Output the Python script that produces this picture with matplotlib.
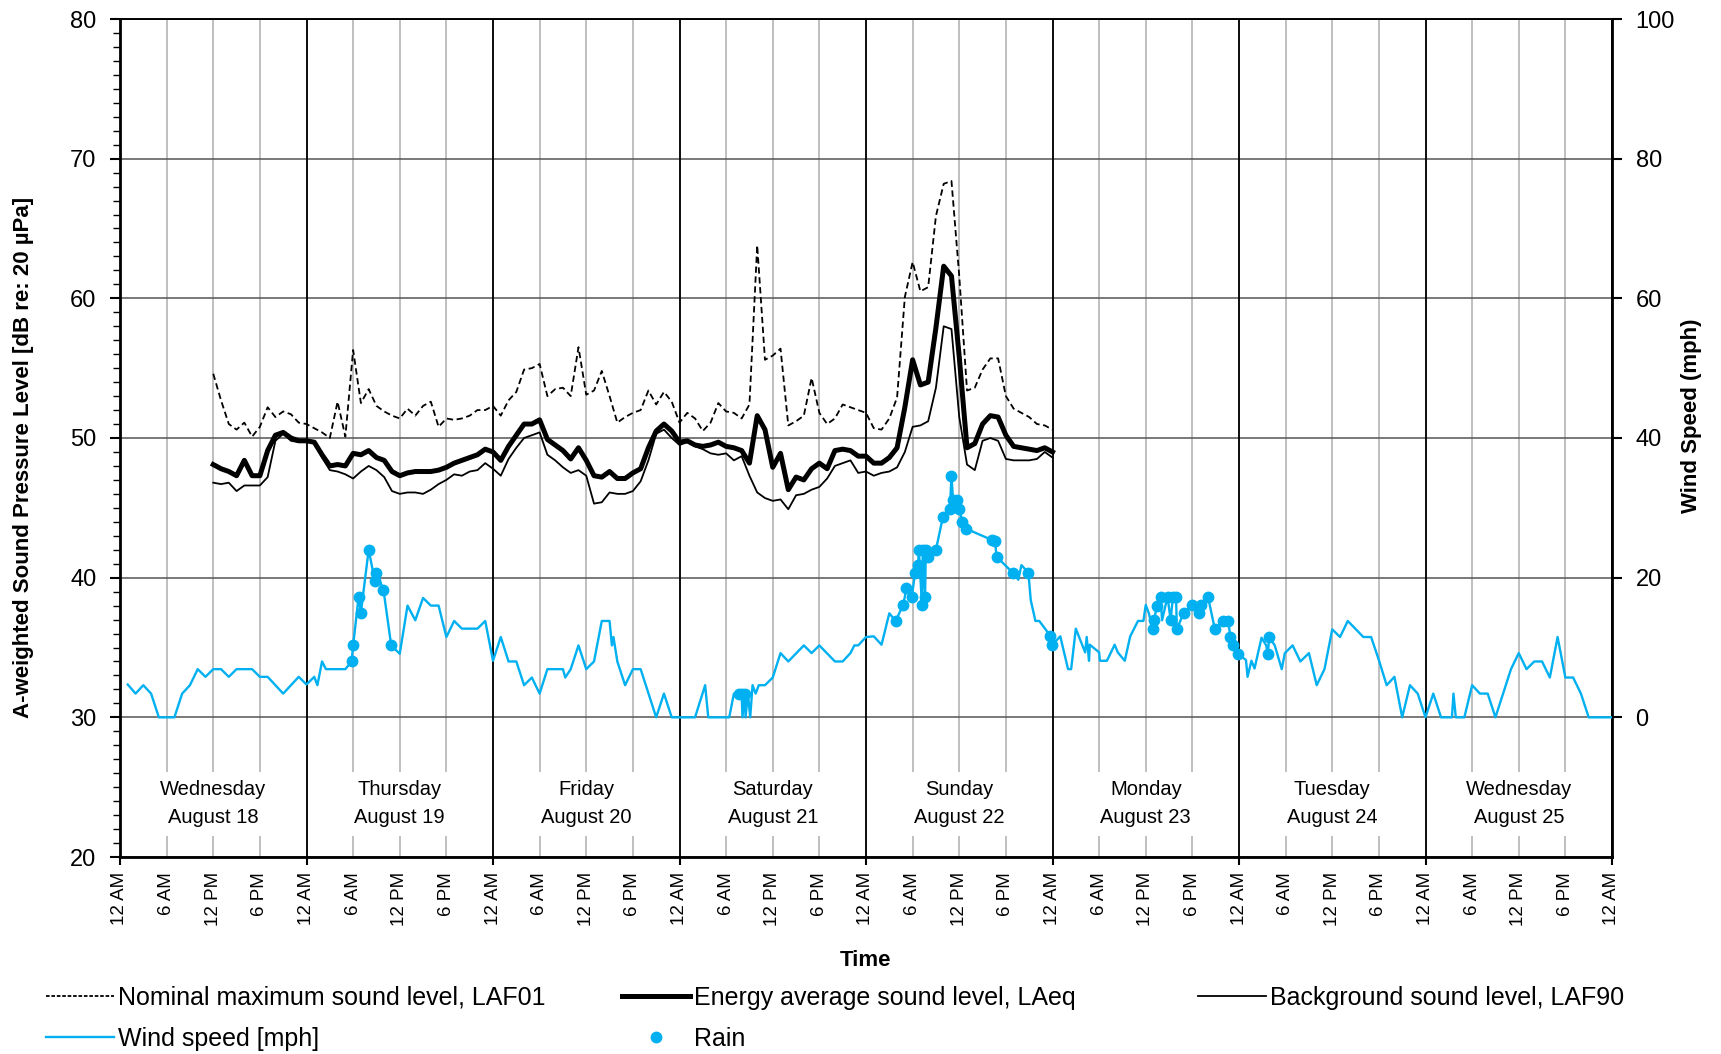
import numpy as np
import matplotlib
matplotlib.use("Agg")
import matplotlib.pyplot as plt
from matplotlib.lines import Line2D
from matplotlib.ticker import MultipleLocator

plt.rcParams['font.family'] = ['Liberation Sans', 'DejaVu Sans']

# hours since Wed Aug 18, 12 AM
sound_hours = list(range(12, 121))

laf01 = [54.6, 52.7, 51.0, 50.6, 51.1, 50.1, 50.8, 52.2, 51.5, 51.9, 51.7, 51.1,
         51.0, 50.7, 50.4, 50.0, 52.6, 50.1, 56.3, 52.5, 53.5, 52.3, 51.9, 51.6,
         51.4, 52.1, 51.6, 52.3, 52.6, 50.8, 51.4, 51.3, 51.4, 51.6, 52.0, 52.0,
         52.3, 51.6, 52.7, 53.3, 54.9, 55.0, 55.3, 53.0, 53.5, 53.6, 53.0, 56.5,
         53.1, 53.4, 54.8, 53.0, 51.1, 51.5, 51.8, 52.0, 53.4, 52.4, 53.3, 52.6,
         51.1, 51.8, 51.4, 50.5, 51.1, 52.5, 51.9, 51.8, 51.4, 52.4, 63.8, 55.6,
         55.9, 56.4, 50.9, 51.2, 51.6, 54.3, 51.8, 51.0, 51.4, 52.4, 52.2, 52.0,
         51.8, 50.7, 50.6, 51.4, 52.9, 60.1, 62.6, 60.5, 60.8, 65.9, 68.2, 68.4,
         61.6, 53.4, 53.6, 54.9, 55.7, 55.7, 53.0, 52.1, 51.8, 51.5, 51.0, 50.9,
         50.6]

laeq = [48.1, 47.8, 47.6, 47.3, 48.4, 47.3, 47.3, 49.1, 50.2, 50.4, 50.0, 49.8,
        49.8, 49.7, 48.8, 48.0, 48.1, 48.0, 48.9, 48.8, 49.1, 48.6, 48.4, 47.6,
        47.3, 47.5, 47.6, 47.6, 47.6, 47.7, 47.9, 48.2, 48.4, 48.6, 48.8, 49.2,
        49.0, 48.4, 49.4, 50.2, 51.0, 51.0, 51.3, 49.9, 49.5, 49.1, 48.5, 49.3,
        48.4, 47.3, 47.2, 47.6, 47.1, 47.1, 47.5, 47.8, 49.3, 50.5, 51.0, 50.5,
        49.7, 49.8, 49.5, 49.4, 49.5, 49.7, 49.4, 49.3, 49.1, 48.2, 51.6, 50.6,
        47.9, 48.9, 46.3, 47.2, 47.0, 47.8, 48.2, 47.8, 49.1, 49.2, 49.1, 48.7,
        48.7, 48.2, 48.2, 48.6, 49.3, 52.2, 55.6, 53.8, 54.0, 57.9, 62.3, 61.6,
        55.8, 49.3, 49.6, 51.0, 51.6, 51.5, 50.2, 49.4, 49.3, 49.2, 49.1, 49.3,
        49.0]

laf90 = [46.8, 46.7, 46.8, 46.2, 46.6, 46.6, 46.6, 47.2, 49.8, 50.3, 49.8, 49.7,
         49.8, 49.7, 48.6, 47.7, 47.6, 47.4, 47.1, 47.6, 48.0, 47.7, 47.2, 46.2,
         46.0, 46.1, 46.1, 46.0, 46.3, 46.7, 47.0, 47.4, 47.3, 47.6, 47.7, 48.2,
         47.8, 47.3, 48.5, 49.3, 50.0, 50.2, 50.4, 48.8, 48.4, 47.9, 47.5, 47.7,
         47.3, 45.3, 45.4, 46.1, 46.0, 46.0, 46.2, 46.9, 48.4, 50.3, 50.6, 50.0,
         49.5, 49.7, 49.4, 49.2, 48.9, 48.8, 48.9, 48.4, 48.7, 47.3, 46.1, 45.7,
         45.5, 45.6, 44.9, 45.9, 46.0, 46.3, 46.5, 47.1, 48.0, 48.2, 48.4, 47.5,
         47.6, 47.3, 47.5, 47.6, 47.9, 49.0, 50.8, 50.9, 51.2, 53.6, 58.0, 57.8,
         51.5, 48.1, 47.7, 49.8, 50.0, 49.8, 48.5, 48.4, 48.4, 48.4, 48.5, 49.0,
         48.6]

wind_hours = [1, 2, 3, 4, 5, 7, 8, 9, 10, 11, 12, 13, 14, 15, 17, 18, 19, 21, 23, 24,
              25, 25.4, 26, 26.5, 29, 29.8, 30, 30.7, 31, 32, 32.8, 33, 33.9, 34.9,
              36, 37, 38, 39, 40, 41, 42, 43, 44, 46, 47, 48, 49, 50, 51, 52, 53, 54,
              55, 57, 57.3, 58, 59, 60, 61, 62, 63, 63.3, 63.5, 64, 65, 66, 67, 69,
              70, 71, 74, 75.3, 75.7, 78.4, 79, 79.6, 80, 80.1, 80.4, 80.5, 80.8,
              81.1, 81.4, 81.8, 82.2, 83, 84, 85, 86, 88, 89, 90, 92, 93, 94, 94.5,
              95, 96, 97, 98, 99, 99.8, 100.8, 101.2, 101.9, 102.3, 102.7, 102.8,
              103.2, 103.3, 103.6, 103.7, 104, 105, 105.9, 106.8, 107, 107.2, 107.7,
              108, 108.4, 108.9, 112.2, 112.6, 112.8, 114.9, 115.6, 116, 116.9,
              117.2, 117.8, 118.3, 119.7, 119.9, 121, 122, 122.4, 123, 124.2, 124.4,
              124.7, 124.8, 126, 126.1, 127, 128, 128.4, 129.3, 130, 131, 131.7, 132,
              132.4, 132.9, 133.1, 133.4, 133.9, 134.1, 134.8, 135.2, 135.5, 135.9,
              136, 136.9, 137.9, 138.9, 139.1, 140, 140.9, 141.9, 142.6, 142.9,
              143.2, 143.9, 144.9, 145.1, 145.6, 146, 146.9, 147.5, 147.7, 147.9,
              148.6, 149.5, 149.9, 150.9, 151.9, 153, 154, 155, 156, 157, 158, 160,
              161, 162, 163, 164, 165, 166, 167, 168, 169, 170, 171.4, 171.6, 171.9,
              173, 174, 175, 176, 177, 179, 180, 181, 182, 183, 184, 185, 186, 187,
              188, 189, 192]
wind_mph = [4.7, 3.4, 4.6, 3.4, 0, 0, 3.4, 4.6, 6.9, 5.8, 6.9, 6.9, 5.8, 6.9, 6.9, 5.8,
            5.8, 3.4, 5.8, 4.7, 5.8, 4.6, 8.0, 6.9, 6.9, 8.0, 10.3, 17.2, 15.0, 24.0,
            19.5, 20.7, 18.3, 10.3, 9.1, 16.0, 13.9, 17.1, 16.0, 16.0, 11.5, 13.8,
            12.7, 12.7, 13.8, 8.1, 11.5, 8.0, 8.0, 4.6, 5.7, 3.4, 6.9, 6.9, 5.7, 6.9,
            10.3, 6.9, 8.0, 13.8, 13.8, 10.3, 11.5, 8.0, 4.6, 6.9, 6.9, 0, 3.4, 0, 0,
            4.6, 0, 0, 3.4, 3.4, 3.4, 0, 3.4, 0, 3.4, 0, 4.6, 3.4, 4.6, 4.6, 5.7, 9.2,
            8.0, 10.3, 9.2, 10.3, 8.0, 8.0, 9.2, 10.3, 10.3, 11.5, 11.6, 10.4, 14.9,
            13.8, 16.1, 18.5, 17.3, 20.6, 21.8, 24.0, 16.1, 24.0, 17.3, 24.0, 22.9,
            24.0, 28.7, 29.9, 34.6, 31.1, 31.1, 29.8, 28.0, 27.0, 25.4, 25.3, 23.0,
            20.7, 19.7, 21.8, 20.7, 16.8, 13.8, 13.8, 11.7, 10.3, 11.6, 6.9, 6.9,
            12.7, 9.3, 11.5, 8.1, 10.4, 9.3, 8.1, 8.1, 10.4, 9.3, 8.1, 11.6, 13.8,
            13.8, 16.1, 14.9, 12.6, 13.9, 16.0, 17.3, 13.9, 17.3, 13.9, 17.3, 17.3,
            12.6, 15.0, 16.1, 14.9, 16.1, 17.3, 12.6, 13.8, 13.8, 11.5, 10.3, 9.1,
            8.2, 5.8, 8.1, 7.0, 11.4, 10.3, 9.1, 11.5, 10.3, 6.9, 9.2, 10.3, 8.0, 9.2,
            4.6, 6.9, 12.6, 11.5, 13.8, 11.5, 11.5, 8.2, 4.6, 5.8, 0, 4.6, 3.4, 0,
            3.4, 0, 0, 3.4, 0, 0, 4.6, 3.4, 3.4, 0, 6.9, 9.2, 6.9, 8.0, 8.0, 5.7, 11.5,
            5.7, 5.7, 3.4, 0, 0]

rain_hours = [29.8, 30, 30.7, 31, 32, 32.8, 33, 33.9, 34.9,
              79.6, 80, 80.4,
              99.8, 100.8, 101.2, 101.9, 102.3, 102.7, 102.8, 103.2, 103.3, 103.6,
              103.7, 104, 105, 105.9, 106.8, 107, 107.2, 107.7, 108, 108.4, 108.9,
              112.2, 112.6, 112.8, 114.9, 116.9, 119.7, 119.9,
              132.9, 133.1, 133.4, 133.9, 134.8, 135.2, 135.5, 135.9, 136, 136.9,
              137.9, 138.9, 139.1, 140, 140.9, 141.9, 142.6, 142.9, 143.2, 143.9,
              147.7, 147.9]
rain_mph = [8.0, 10.3, 17.2, 15.0, 24.0, 19.5, 20.7, 18.3, 10.3,
            3.4, 3.4, 3.4,
            13.8, 16.1, 18.5, 17.3, 20.6, 21.8, 24.0, 16.1, 24.0, 17.3,
            24.0, 22.9, 24.0, 28.7, 29.9, 34.6, 31.1, 31.1, 29.8, 28.0, 27.0,
            25.4, 25.3, 23.0, 20.7, 20.7, 11.7, 10.3,
            12.6, 13.9, 16.0, 17.3, 17.3, 13.9, 17.3, 17.3, 12.6, 15.0,
            16.1, 14.9, 16.1, 17.3, 12.6, 13.8, 13.8, 11.5, 10.3, 9.1,
            9.1, 11.5]

day_names = ['Wednesday\nAugust 18', 'Thursday\nAugust 19', 'Friday\nAugust 20',
             'Saturday\nAugust 21', 'Sunday\nAugust 22', 'Monday\nAugust 23',
             'Tuesday\nAugust 24', 'Wednesday\nAugust 25']
tick_names = ['12 AM', '6 AM', '12 PM', '6 PM'] * 8 + ['12 AM']

blue = '#00B0F0'

fig = plt.figure(figsize=(17.21, 10.54), dpi=100)
ax = fig.add_axes([120 / 1721, 1 - 857 / 1054, 1492 / 1721, 838 / 1054])
ax2 = ax.twinx()

ax.set_xlim(0, 192)
ax.set_ylim(20, 80)
ax2.set_ylim(-20, 100)

# grid: gray every 6 h, black at midnight
ax.set_xticks(np.arange(0, 193, 6))
ax.set_xticklabels(tick_names, rotation=90, fontsize=13.5)
ax.grid(axis='x', which='major', color='#bfbfbf', lw=1.4, zorder=1)
ax.set_yticks(np.arange(20, 81, 10))
ax.yaxis.set_minor_locator(MultipleLocator(1))
ax.grid(axis='y', which='major', color='#555555', lw=1.1, zorder=1)
for d in range(0, 193, 24):
    ax.axvline(d, color='black', lw=1.3, zorder=4)

ax.tick_params(axis='x', which='major', length=6, width=1.5, pad=5)
for i, t in enumerate(ax.xaxis.get_major_ticks()):
    if i % 4 != 0:
        t.tick1line.set_visible(False)
ax.tick_params(axis='y', which='major', length=7, width=1.5, labelsize=17, pad=10)
ax.tick_params(axis='y', which='minor', length=5, width=1.0)
ax2.set_yticks(np.arange(0, 101, 20))
ax2.tick_params(axis='y', which='major', length=7, width=1.5, labelsize=17, pad=10)

for sp in ['left', 'bottom']:
    ax.spines[sp].set_linewidth(2)
ax.spines['top'].set_linewidth(1.2)
ax2.spines['right'].set_linewidth(2)
ax2.spines['top'].set_linewidth(1.2)

# day labels
for i, name in enumerate(day_names):
    ax.text(12 + 24 * i, 23.8, name, ha='center', va='center', fontsize=14.5,
            linespacing=1.6, zorder=3,
            bbox=dict(facecolor='white', edgecolor='none', pad=6))

# sound levels
ax.plot(sound_hours, laf01, color='black', lw=1.3, ls=(0, (3.5, 2)), zorder=5)
ax.plot(sound_hours, laeq, color='black', lw=3.6, zorder=5)
ax.plot(sound_hours, laf90, color='black', lw=1.3, zorder=5)

# wind and rain
ax2.plot(wind_hours, wind_mph, color=blue, lw=1.7, zorder=5)
ax2.plot(rain_hours, rain_mph, ls='none', marker='o', ms=7.5, color=blue, zorder=6)

fig.text(24 / 1721, 1 - 457 / 1054, 'A-weighted Sound Pressure Level [dB re: 20 µPa]',
         rotation=90, ha='center', va='center', fontsize=16, fontweight='bold')
fig.text(1692 / 1721, 1 - 416 / 1054, 'Wind Speed (mph)', rotation=90,
         ha='center', va='center', fontsize=16, fontweight='bold')
fig.text(865 / 1721, 1 - 960 / 1054, 'Time', ha='center', va='center',
         fontsize=16, fontweight='bold')

# legend, three columns
h_laf01 = Line2D([], [], color='black', lw=1.3, ls=(0, (2, 1)))
h_laeq = Line2D([], [], color='black', lw=3.6)
h_laf90 = Line2D([], [], color='black', lw=1.3)
h_wind = Line2D([], [], color=blue, lw=1.7)
h_rain = Line2D([], [], color=blue, ls='none', marker='o', ms=7.5)

cols = [([h_laf01, h_wind], ['Nominal maximum sound level, LAF01', 'Wind speed [mph]'], 46),
        ([h_laeq, h_rain], ['Energy average sound level, LAeq', 'Rain'], 622),
        ([h_laf90], ['Background sound level, LAF90'], 1198)]
for handles, labels, x0 in cols:
    fig.legend(handles, labels, loc='upper left',
               bbox_to_anchor=(x0 / 1721, 1 - 986 / 1054),
               frameon=False, fontsize=18, handlelength=2.7, handletextpad=0.2,
               borderpad=0, borderaxespad=0, labelspacing=0.68)

fig.savefig('out.png', dpi=100)
